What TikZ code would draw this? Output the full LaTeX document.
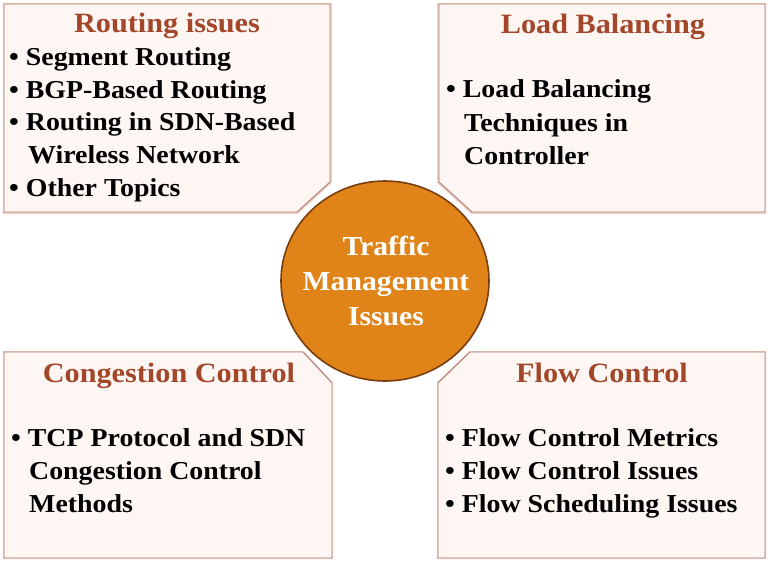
\documentclass[tikz,border=0pt]{standalone}
\usepackage{fontspec}
\setmainfont{Liberation Serif}[FakeStretch=1.08]
\usetikzlibrary{arrows.meta}

\definecolor{boxfill}{HTML}{FDF6F3}
\definecolor{boxline}{HTML}{B57A6A}
\definecolor{boxshade}{HTML}{EAD3CB}
\definecolor{titlecol}{HTML}{A3462A}
\definecolor{hubfill}{HTML}{E0841A}
\definecolor{hubline}{HTML}{7A3E0E}

\tikzset{
  panel/.style={draw=boxline, line width=0.9pt, fill=boxfill},
  panelshade/.style={draw=boxshade, line width=4pt},
  title/.style={anchor=base, inner sep=0pt, text=titlecol, font=\fontsize{28}{32}\selectfont\bfseries},
  item/.style={anchor=base west, inner sep=0pt, font=\fontsize{25.8}{30}\selectfont\bfseries},
  hub/.style={draw=hubline, line width=1.6pt, fill=hubfill},
  hubtext/.style={anchor=base, inner sep=0pt, text=white, font=\fontsize{27.5}{32}\selectfont\bfseries}
}

\begin{document}
\begin{tikzpicture}[x=1pt,y=-1pt]
            \useasboundingbox (0,0) rectangle (768,563);
            % panels with cut corner facing the hub
            \draw [panelshade] (5,5) -- (330,5) -- (330,182) -- (297,212) -- (5,212) -- cycle;
            \draw [panel] (4,4) -- (330,4) -- (330,182) -- (297,212) -- (4,212) -- cycle;
            \draw [panelshade] (439,5) -- (764,5) -- (764,212) -- (472,212) -- (439,182) -- cycle;
            \draw [panel] (439,4) -- (765,4) -- (765,212) -- (472,212) -- (439,182) -- cycle;
            \draw [panelshade] (5,353) -- (303,353) -- (331,383) -- (331,557) -- (5,557) -- cycle;
            \draw [panel] (4,352) -- (303,352) -- (332,383) -- (332,558) -- (4,558) -- cycle;
            \draw [panelshade] (470,353) -- (764,353) -- (764,557) -- (439,557) -- (439,383) -- cycle;
            \draw [panel] (470,352) -- (765,352) -- (765,558) -- (438,558) -- (438,383) -- cycle;
            % hub
            \draw [hub] (385,281) ellipse (104 and 100);
            \node[hubtext] (hub1) at (386,255) {Traffic};
            \node[hubtext] (hub2) at (386,290) {Management};
            \node[hubtext] (hub3) at (386,325) {Issues};
            % routing
            \node[title] (rt) at (167,32) {Routing issues};
            \node[item] (rt1) at (9,65) {\textbullet\ Segment Routing};
            \node[item] (rt2) at (9,98) {\textbullet\ BGP-Based Routing};
            \node[item] (rt3) at (9,130) {\textbullet\ Routing in SDN-Based};
            \node[item] (rt4) at (28,163) {Wireless Network};
            \node[item] (rt5) at (9,196) {\textbullet\ Other Topics};
            % load balancing
            \node[title] (lb) at (603,33) {Load Balancing};
            \node[item] (lb1) at (446,97) {\textbullet\ Load Balancing};
            \node[item] (lb2) at (464,131) {Techniques in};
            \node[item] (lb3) at (464,164) {Controller};
            % congestion
            \node[title] (cc) at (169,382) {Congestion Control};
            \node[item] (cc1) at (11,446) {\textbullet\ TCP Protocol and SDN};
            \node[item] (cc2) at (29,479) {Congestion Control};
            \node[item] (cc3) at (29,512) {Methods};
            % flow
            \node[title] (fc) at (602,382) {Flow Control};
            \node[item] (fc1) at (445,446) {\textbullet\ Flow Control Metrics};
            \node[item] (fc2) at (445,479) {\textbullet\ Flow Control Issues};
            \node[item] (fc3) at (445,512) {\textbullet\ Flow Scheduling Issues};
        \end{tikzpicture}
\end{document}
